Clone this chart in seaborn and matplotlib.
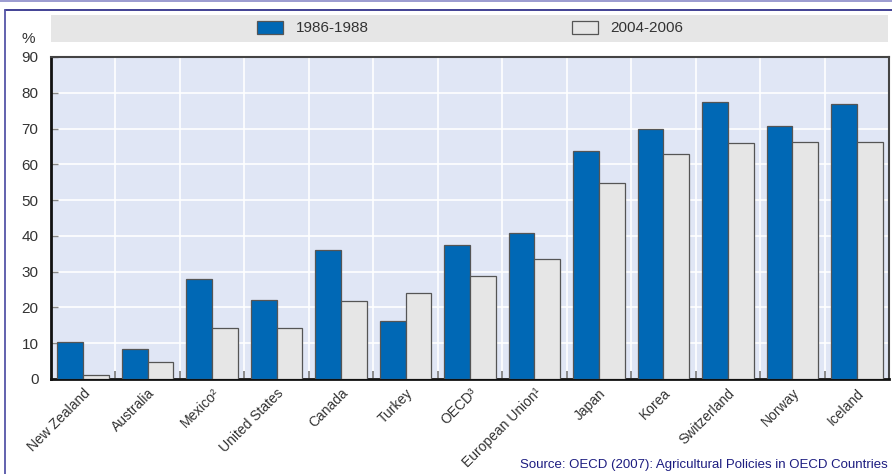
import matplotlib
matplotlib.use("Agg")
import matplotlib.pyplot as plt
import seaborn as sns
import pandas as pd
import numpy as np
from matplotlib.patches import Rectangle
from matplotlib.lines import Line2D

countries = ["New Zealand", "Australia", "Mexico²", "United States", "Canada", "Turkey",
             "OECD³", "European Union¹", "Japan", "Korea", "Switzerland", "Norway", "Iceland"]
period_a = "1986-1988"
period_b = "2004-2006"
values_a = [10.3, 8.5, 28.0, 22.1, 36.0, 16.3, 37.4, 40.7, 63.7, 70.0, 77.3, 70.7, 76.9]
values_b = [1.0, 4.7, 14.2, 14.2, 21.7, 24.0, 28.9, 33.5, 54.7, 63.0, 65.9, 66.2, 66.2]
y_ticks = [0, 10, 20, 30, 40, 50, 60, 70, 80, 90]

df = pd.DataFrame({
    "country": countries * 2,
    "period": [period_a] * len(countries) + [period_b] * len(countries),
    "value": values_a + values_b,
})

sns.set_theme(style="white")
plt.rcParams["font.family"] = ["Liberation Sans", "DejaVu Sans"]
FS = 11

W, H = 892, 474
fig = plt.figure(figsize=(W / 100, H / 100), dpi=100)
fig.patch.set_facecolor("white")
ax = fig.add_axes([51 / W, 1 - 379 / H, (889 - 51) / W, (379 - 57) / H])
ax.set_facecolor("#E0E6F5")

sns.barplot(data=df, x="country", y="value", hue="period", order=countries,
            hue_order=[period_a, period_b], palette=["#0068B5", "#E6E6E6"],
            saturation=1, width=0.8, edgecolor="#555555", linewidth=0.9, ax=ax, zorder=3)

ax.set_ylim(0, 90)
ax.set_xlim(-0.5, len(countries) - 0.5)
ax.set_yticks(y_ticks)
ax.set_xlabel("")
ax.set_ylabel("")

# grid
ax.set_xticks(np.arange(len(countries) - 1) + 0.5, minor=True)
ax.grid(axis="y", which="major", color="white", linewidth=1.2, zorder=0)
ax.grid(axis="x", which="minor", color="white", linewidth=1.2, zorder=0)
ax.set_axisbelow(True)

ax.tick_params(axis="x", which="major", length=0, pad=5, labelsize=10, labelcolor="#333333")
ax.tick_params(axis="x", which="minor", direction="in", length=6, color="#777777", width=1.2, bottom=True)
ax.tick_params(axis="y", which="major", direction="in", length=5, color="#888888", width=1,
               left=True, labelsize=FS, labelcolor="#333333", pad=9)
for lbl in ax.get_xticklabels():
    lbl.set_rotation(45)
    lbl.set_ha("right")
    lbl.set_va("top")
    lbl.set_rotation_mode("anchor")

for side in ["top", "right"]:
    ax.spines[side].set_color("#444444")
    ax.spines[side].set_linewidth(1.5)
for side in ["left", "bottom"]:
    ax.spines[side].set_color("#111111")
    ax.spines[side].set_linewidth(2)

# legend band
fig.patches.append(Rectangle((51 / W, 1 - 42 / H), (888 - 51) / W, 27 / H,
                             transform=fig.transFigure, facecolor="#E6E6E6",
                             edgecolor="none", zorder=0))
handles, labels = ax.get_legend_handles_labels()
if ax.legend_:
    ax.legend_.remove()
leg = fig.legend(handles, labels, loc="center", bbox_to_anchor=(470 / W, 1 - 28 / H),
                 ncol=2, frameon=False, fontsize=FS, handlelength=1.76, handleheight=0.92,
                 handletextpad=0.78, columnspacing=13.3)
for t in leg.get_texts():
    t.set_color("#333333")

fig.text(28 / W, 1 - 39 / H, "%", ha="center", va="center", fontsize=FS, color="#333333")
fig.text(888 / W, 1 - 465 / H, "Source: OECD (2007): Agricultural Policies in OECD Countries",
         ha="right", va="center", fontsize=9.5, color="#1C1C80")

# frame lines
fig.add_artist(Line2D([0, 1], [1 - 1 / H, 1 - 1 / H], transform=fig.transFigure,
                      color="#8A8AC8", linewidth=1.2))
fig.add_artist(Line2D([5 / W, 1], [1 - 9.5 / H, 1 - 9.5 / H], transform=fig.transFigure,
                      color="#33338C", linewidth=1.3))
fig.add_artist(Line2D([5 / W, 5 / W], [0, 1 - 9.5 / H], transform=fig.transFigure,
                      color="#5555A8", linewidth=1.3))

fig.savefig("out.png", dpi=100)
